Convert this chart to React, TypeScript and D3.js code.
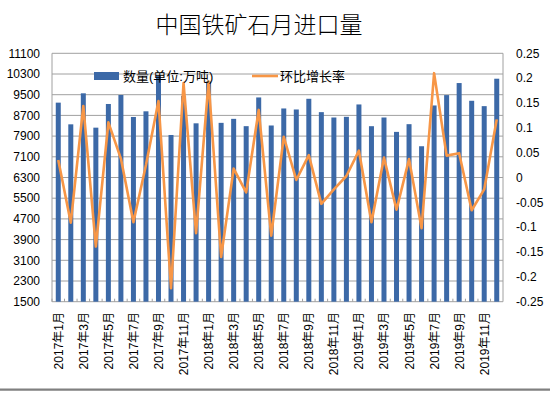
import React from "react";
import * as d3 from "d3";

const months: string[] = [];
[2017, 2018, 2019].forEach((y) => {
  for (let m = 1; m <= 12; m++) months.push(`${y}年${m}月`);
});

const volumes = [
  9193, 8355, 9554, 8226, 9141, 9489, 8639, 8858, 10224, 7943, 9452, 8394,
  10010, 8412, 8567, 8284, 9394, 8310, 8968, 8929, 9342, 8826, 8619, 8645,
  9123, 8283, 8619, 8063, 8361, 7508, 9084, 9485, 9950, 9265, 9058, 10118,
];

const rates = [
  0.035, -0.091, 0.144, -0.139, 0.111, 0.038, -0.09, 0.025, 0.154, -0.223, 0.19, -0.112,
  0.193, -0.16, 0.018, -0.03, 0.136, -0.117, 0.082, -0.005, 0.045, -0.053, -0.024, 0.003,
  0.054, -0.09, 0.04, -0.065, 0.037, -0.102, 0.21, 0.044, 0.049, -0.066, -0.024, 0.117,
];

const leftTicks = [1500, 2300, 3100, 3900, 4700, 5500, 6300, 7100, 7900, 8700, 9500, 10300, 11100];
const rightTicks = [-0.25, -0.2, -0.15, -0.1, -0.05, 0, 0.05, 0.1, 0.15, 0.2, 0.25];
const rightTickLabels = ["-0.25", "-0.2", "-0.15", "-0.1", "-0.05", "0", "0.05", "0.1", "0.15", "0.2", "0.25"];

const title = "中国铁矿石月进口量";
const seriesNames = ["数量(单位:万吨)", "环比增长率"];

const W = 550;
const H = 393;
const L = 52;
const R = 503;
const T = 53.3;
const B = 301.7;

const BAR = "#3c69a7";
const LINE = "#f79646";
const GRID = "#a0a0a0";
const FONT = "'Liberation Sans', Arial, 'Noto Sans CJK SC', sans-serif";

export default function App() {
  const x = d3.scaleBand<string>().domain(months).range([L, R]).paddingInner(0).paddingOuter(0);
  const yL = d3.scaleLinear().domain([1500, 11100]).range([B, T]);
  const yR = d3.scaleLinear().domain([-0.25, 0.25]).range([B, T]);
  const bw = 5;
  const cx = (m: string) => (x(m) as number) + x.bandwidth() / 2;
  const line = d3
    .line<number>()
    .x((_, i) => cx(months[i]))
    .y((d) => yR(d));

  return (
    <div style={{ position: "absolute", left: 0, top: 0, width: W, height: H, background: "#fff" }}>
      <svg width={W} height={H} style={{ display: "block", fontFamily: FONT }}>
        <rect x={0} y={0} width={W} height={H} fill="#fff" />
        <text
          x={259}
          y={33}
          textAnchor="middle"
          fontSize={23}
          fontFamily="'Noto Sans CJK SC', sans-serif"
          fontWeight={300}
          fill="#000"
        >
          {title}
        </text>
        {leftTicks.map((t) => (
          <line key={"g" + t} x1={L} x2={R} y1={yL(t)} y2={yL(t)} stroke={GRID} strokeWidth={1} />
        ))}
        <line x1={L} x2={L} y1={T} y2={B} stroke={GRID} strokeWidth={1} />
        <line x1={R} x2={R} y1={T} y2={B} stroke={GRID} strokeWidth={1} />
        {leftTicks.map((t) => (
          <text key={"l" + t} x={40} y={yL(t)} dy="0.35em" textAnchor="end" fontSize={12} fill="#000">
            {t}
          </text>
        ))}
        {rightTicks.map((t, i) => (
          <text key={"r" + t} x={516} y={yR(t)} dy="0.35em" textAnchor="start" fontSize={12} fill="#000">
            {rightTickLabels[i]}
          </text>
        ))}
        {months.map((m, i) => (
          <rect key={"b" + m} x={cx(m) - bw / 2} y={yL(volumes[i])} width={bw} height={B - yL(volumes[i])} fill={BAR} />
        ))}
        {months.map((m) => (
          <line key={"t" + m} x1={x(m) as number} x2={x(m) as number} y1={B} y2={B - 3} stroke={GRID} strokeWidth={1} />
        ))}
        <path d={line(rates) || ""} fill="none" stroke={LINE} strokeWidth={2.6} strokeLinejoin="round" />
        {months.map((m, i) =>
          i % 2 === 0 ? (
            <text
              key={"x" + m}
              transform={`translate(${cx(m) + 4.5},312) rotate(-90)`}
              textAnchor="end"
              fontSize={12}
              fill="#000"
            >
              {m}
            </text>
          ) : null
        )}
        <rect x={94} y={72} width={25} height={8} fill={BAR} />
        <text x={123} y={76} dy="0.35em" fontSize={13} fill="#000">
          {seriesNames[0]}
        </text>
        <line x1={252} x2={278} y1={76} y2={76} stroke={LINE} strokeWidth={2.6} />
        <text x={280} y={76} dy="0.35em" fontSize={13} fill="#000">
          {seriesNames[1]}
        </text>
        <line x1={0} x2={W} y1={389.6} y2={389.6} stroke="#808080" strokeWidth={2.4} />
      </svg>
    </div>
  );
}
